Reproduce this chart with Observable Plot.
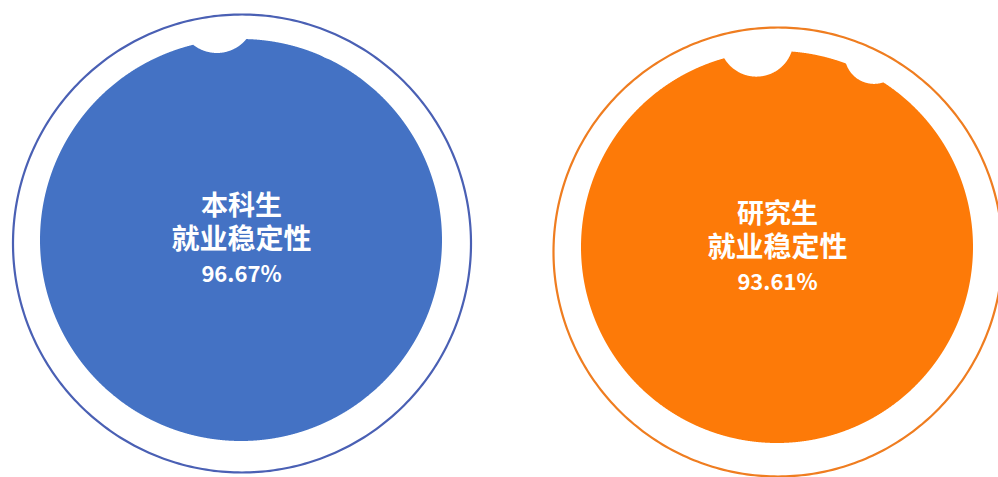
<!DOCTYPE html>
<html><head><meta charset="utf-8">
<script src="https://cdn.jsdelivr.net/npm/d3@7"></script>
<script src="https://cdn.jsdelivr.net/npm/@observablehq/plot@0.6"></script>
<style>html,body{margin:0;padding:0;background:#fff;overflow:hidden;}</style>
</head><body><div id="chart"></div>
<script>
// ---- data ----
const categories = ["本科生", "研究生"];
const metricLabels = ["就业稳定性", "就业稳定性"];
const values = [96.67, 93.61];

// ---- layout / style (pixels) ----
const W = 998, H = 477;
const layout = [
  {cx: 241, cy: 240, r: 201, rcx: 241.5, rcy: 243, ring: 229, phase: -0.12, textShift: 2, fill: "#4472c4", stroke: "#4a60b4"},
  {cx: 777, cy: 247, r: 196, rcx: 777.5, rcy: 251.5, ring: 224.5, phase: -0.105, textShift: 3, fill: "#fd7a08", stroke: "#ef7d20"}
];
// wave "bites" (in units of the inner radius)
const biteR1 = 0.19, biteR2 = 0.15, secondShift = 0.6;
const trough1 = -0.023 + 0.02, trough2 = -0.06 + 0.02;

function bite(d, R, base) {
  return Math.abs(d) < R ? base + R - Math.sqrt(R * R - d * d) : Infinity;
}

const liquid = [], rings = [], labels = [];
categories.forEach((cat, i) => {
  const L = layout[i], v = values[i];
  const level = -1 + 2 * v / 100;
  const N = 1600;
  for (let k = 0; k <= N; k++) {
    const t = Math.PI * k / N;
    const xu = -Math.cos(t);
    const h = Math.sqrt(Math.max(0, 1 - xu * xu));
    const w1 = bite(xu - L.phase, biteR1, level + trough1);
    const w2 = bite(xu - L.phase - secondShift, biteR2, level + trough2);
    const top = Math.max(-h, Math.min(h, w1, w2));
    liquid.push({cat, x: L.cx + xu * L.r, y1: L.cy + h * L.r, y2: L.cy - top * L.r});
  }
  for (let k = 0; k <= 360; k++) {
    const a = 2 * Math.PI * k / 360;
    rings.push({cat, x: L.rcx + Math.cos(a) * L.ring, y: L.rcy + Math.sin(a) * L.ring});
  }
  labels.push({cat, metric: metricLabels[i], pct: v.toFixed(2) + "%", x: L.cx, y: L.cy + L.textShift});
});

const colorOf = Object.fromEntries(categories.map((c, i) => [c, layout[i].fill]));
const strokeOf = Object.fromEntries(categories.map((c, i) => [c, layout[i].stroke]));
const font = "'Noto Sans CJK SC', 'Microsoft YaHei', sans-serif";

const marks = [];
categories.forEach(cat => {
  marks.push(Plot.areaY(liquid.filter(d => d.cat === cat), {x: "x", y1: "y1", y2: "y2", fill: colorOf[cat], curve: "linear"}));
  marks.push(Plot.line(rings.filter(d => d.cat === cat), {x: "x", y: "y", stroke: strokeOf[cat], strokeWidth: 2.2, curve: "linear"}));
});
marks.push(
  Plot.text(labels, {x: "x", y: "y", text: "cat", dy: -36, fill: "white", fontSize: 27, fontWeight: "bold", fontFamily: font}),
  Plot.text(labels, {x: "x", y: "y", text: "metric", dy: -2, fill: "white", fontSize: 28, fontWeight: "bold", fontFamily: font}),
  Plot.text(labels, {x: "x", y: "y", text: "pct", dy: 32, fill: "white", fontSize: 22, fontWeight: "bold", fontFamily: font})
);

const chart = Plot.plot({
  width: W, height: H,
  marginTop: 0, marginRight: 0, marginBottom: 0, marginLeft: 0,
  x: {domain: [0, W], axis: null},
  y: {domain: [H, 0], axis: null},
  style: {background: "#fff"},
  marks
});
document.getElementById("chart").appendChild(chart);
</script>
</body></html>
